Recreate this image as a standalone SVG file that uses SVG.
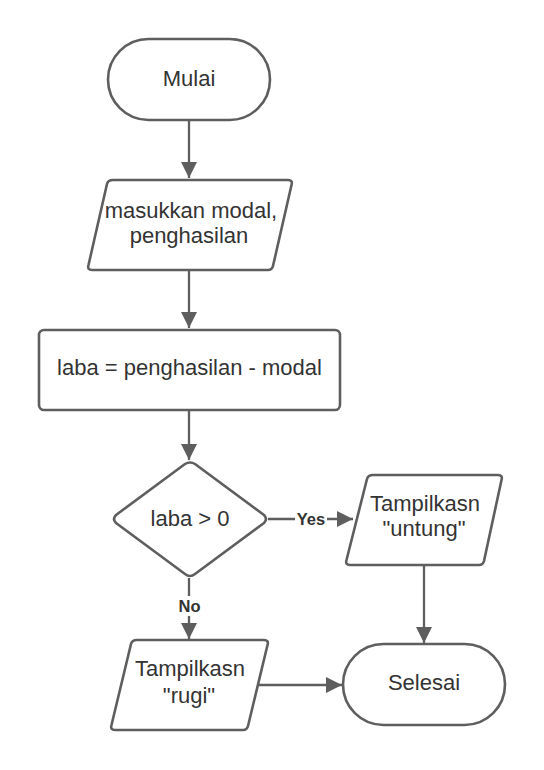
<svg xmlns="http://www.w3.org/2000/svg" width="544" height="770" viewBox="0 0 544 770">
<style>
.s{fill:#ffffff;stroke:#5e5e5e;stroke-width:2.6;stroke-linejoin:round}
.t{font-family:"Liberation Sans",Arial,sans-serif;font-size:22px;fill:#333333;text-anchor:middle}
.c{fill:none;stroke:#5e5e5e;stroke-width:2.3}
.l{font-family:"Liberation Sans",Arial,sans-serif;font-size:16.5px;font-weight:bold;fill:#333333;text-anchor:middle}
</style>
<defs>
<marker id="ah" viewBox="0 0 16 16" refX="16" refY="8" markerWidth="16" markerHeight="16" markerUnits="userSpaceOnUse" orient="auto"><path d="M0,0 L16,8 L0,16 Z" fill="#5e5e5e"/></marker>
</defs>
<rect width="544" height="770" fill="#ffffff"/>
<g id="connectors">
<line class="c" x1="189" y1="121" x2="189" y2="178" marker-end="url(#ah)"/>
<line class="c" x1="189" y1="270" x2="189" y2="328" marker-end="url(#ah)"/>
<line class="c" x1="189" y1="410" x2="189" y2="460" marker-end="url(#ah)"/>
<line class="c" x1="268" y1="519" x2="353" y2="519" marker-end="url(#ah)"/>
<rect x="295" y="509" width="32" height="20" fill="#ffffff"/>
<text class="l" x="311" y="525">Yes</text>
<line class="c" x1="189" y1="578" x2="189" y2="639" marker-end="url(#ah)"/>
<rect x="177" y="596" width="26" height="20" fill="#ffffff"/>
<text class="l" x="189.5" y="612">No</text>
<line class="c" x1="424" y1="565" x2="424" y2="643" marker-end="url(#ah)"/>
<line class="c" x1="259" y1="685" x2="342" y2="685" marker-end="url(#ah)"/>
</g>
<g id="mulai">
<rect class="s" x="108" y="39" width="162" height="81" rx="40.5"/>
<text class="t" x="189" y="86">Mulai</text>
</g>
<g id="input">
<path class="s" d="M113,180 L288,180 Q293,180 291.5,185 L273,266 Q272,270 268,270 L92,270 Q87,270 88.5,265 L107,184 Q108,180 113,180 Z"/>
<text class="t" x="191" y="218">masukkan modal,</text>
<text class="t" x="189" y="243">penghasilan</text>
</g>
<g id="proses">
<rect class="s" x="39" y="330" width="301" height="80" rx="5"/>
<text class="t" x="189.5" y="375">laba = penghasilan - modal</text>
</g>
<g id="keputusan">
<path class="s" d="M185,464 Q190,461 195,464 L264,515 Q268,519 264,523 L195,574 Q190,578 185,574 L116,523 Q112,519 116,515 Z"/>
<text class="t" x="190" y="526">laba &gt; 0</text>
</g>
<g id="untung">
<path class="s" d="M373,475 L498,475 Q503,475 501.5,480 L484,561 Q483,565 479,565 L350,565 Q345,565 346.5,560 L367,479 Q368,475 373,475 Z"/>
<text class="t" x="425" y="511">Tampilkasn</text>
<text class="t" x="424" y="536">"untung"</text>
</g>
<g id="rugi">
<path class="s" d="M137,640 L264,640 Q269,640 267.5,645 L248,726 Q247,730 243,730 L115,730 Q110,730 111.5,725 L131,644 Q132,640 137,640 Z"/>
<text class="t" x="190" y="676">Tampilkasn</text>
<text class="t" x="189" y="703">"rugi"</text>
</g>
<g id="selesai">
<rect class="s" x="343" y="644" width="162" height="81" rx="40.5"/>
<text class="t" x="424" y="690">Selesai</text>
</g>
</svg>
